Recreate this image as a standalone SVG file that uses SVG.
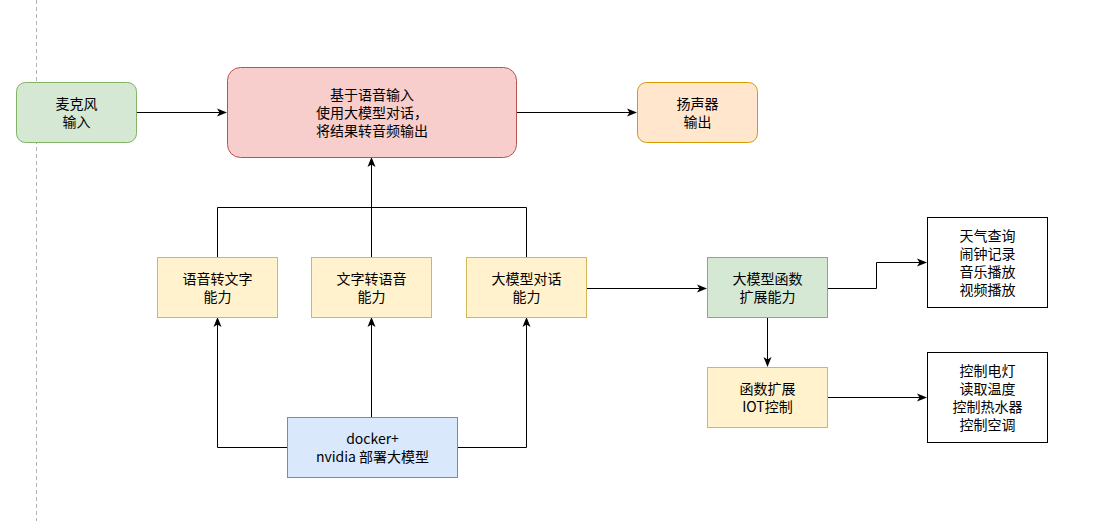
<svg xmlns="http://www.w3.org/2000/svg" width="1105" height="521" viewBox="0 0 1105 521">
<defs>
<marker id="arr" viewBox="0 0 10 10" refX="9" refY="5" markerWidth="10" markerHeight="10" markerUnits="userSpaceOnUse" orient="auto">
<path d="M0,1 L10,5 L0,9 L2.5,5 Z" fill="#000"/>
</marker>
<style>
text{font-family:"Noto Sans CJK SC","Liberation Sans",sans-serif;font-size:14px;fill:#000;text-anchor:middle;dominant-baseline:central}
.c{fill:none;stroke:#000;stroke-width:1}
.g{fill:#d5e8d4;stroke:#82b366}
.r{fill:#f8cecc;stroke:#b85450}
.o{fill:#ffe6cc;stroke:#d79b00}
.y{fill:#fff2cc;stroke:#d6b656}
.b{fill:#dae8fc;stroke:#6c8ebf}
.w{fill:#fff;stroke:#000}
</style>
</defs>
<rect width="1105" height="521" fill="#fff"/>
<line x1="36.5" y1="0" x2="36.5" y2="521" stroke="#b3b3b3" stroke-dasharray="4 3"/>
<g id="connectors">
<path class="c" d="M136,112.5 H226" marker-end="url(#arr)"/>
<path class="c" d="M516,112.5 H636" marker-end="url(#arr)"/>
<path class="c" d="M217.5,257 V207.5 H526.5 V257"/>
<path class="c" d="M371.5,257 V158" marker-end="url(#arr)"/>
<path class="c" d="M287,447.5 H217.5 V318" marker-end="url(#arr)"/>
<path class="c" d="M371.5,417 V318" marker-end="url(#arr)"/>
<path class="c" d="M457,447.5 H526.5 V318" marker-end="url(#arr)"/>
<path class="c" d="M586,288.5 H706" marker-end="url(#arr)"/>
<path class="c" d="M827,288.5 H876.5 V262.5 H926" marker-end="url(#arr)"/>
<path class="c" d="M767.5,317 V366" marker-end="url(#arr)"/>
<path class="c" d="M827,397.5 H926" marker-end="url(#arr)"/>
</g>
<g id="mic"><rect class="g" x="16.5" y="82.5" width="120" height="60" rx="9"/><text x="76.5" y="103">麦克风</text><text x="76.5" y="121">输入</text></g>
<g id="main"><rect class="r" x="227.5" y="67.5" width="289" height="90" rx="13"/><text x="372" y="94">基于语音输入</text><text x="372" y="112">使用大模型对话，</text><text x="372" y="130">将结果转音频输出</text></g>
<g id="speaker"><rect class="o" x="637.5" y="82.5" width="120" height="60" rx="9"/><text x="697.5" y="103">扬声器</text><text x="697.5" y="121">输出</text></g>
<g id="stt"><rect class="y" x="157.5" y="257.5" width="120" height="60"/><text x="217.5" y="278">语音转文字</text><text x="217.5" y="296">能力</text></g>
<g id="tts"><rect class="y" x="311.5" y="257.5" width="120" height="60"/><text x="371.5" y="278">文字转语音</text><text x="371.5" y="296">能力</text></g>
<g id="llm"><rect class="y" x="466.5" y="257.5" width="120" height="60"/><text x="526.5" y="278">大模型对话</text><text x="526.5" y="296">能力</text></g>
<g id="docker"><rect class="b" x="287.5" y="417.5" width="170" height="60"/><text x="372.5" y="438">docker+</text><text x="372.5" y="456">nvidia 部署大模型</text></g>
<g id="func"><rect class="g" x="707.5" y="257.5" width="120" height="60"/><text x="767.5" y="278">大模型函数</text><text x="767.5" y="296">扩展能力</text></g>
<g id="iot"><rect class="y" x="707.5" y="367.5" width="120" height="60"/><text x="767.5" y="388">函数扩展</text><text x="767.5" y="406">IOT控制</text></g>
<g id="out1"><rect class="w" x="927.5" y="217.5" width="120" height="90"/><text x="987.5" y="235">天气查询</text><text x="987.5" y="253">闹钟记录</text><text x="987.5" y="271">音乐播放</text><text x="987.5" y="289">视频播放</text></g>
<g id="out2"><rect class="w" x="927.5" y="352.5" width="120" height="90"/><text x="987.5" y="370">控制电灯</text><text x="987.5" y="388">读取温度</text><text x="987.5" y="406">控制热水器</text><text x="987.5" y="424">控制空调</text></g>
</svg>
